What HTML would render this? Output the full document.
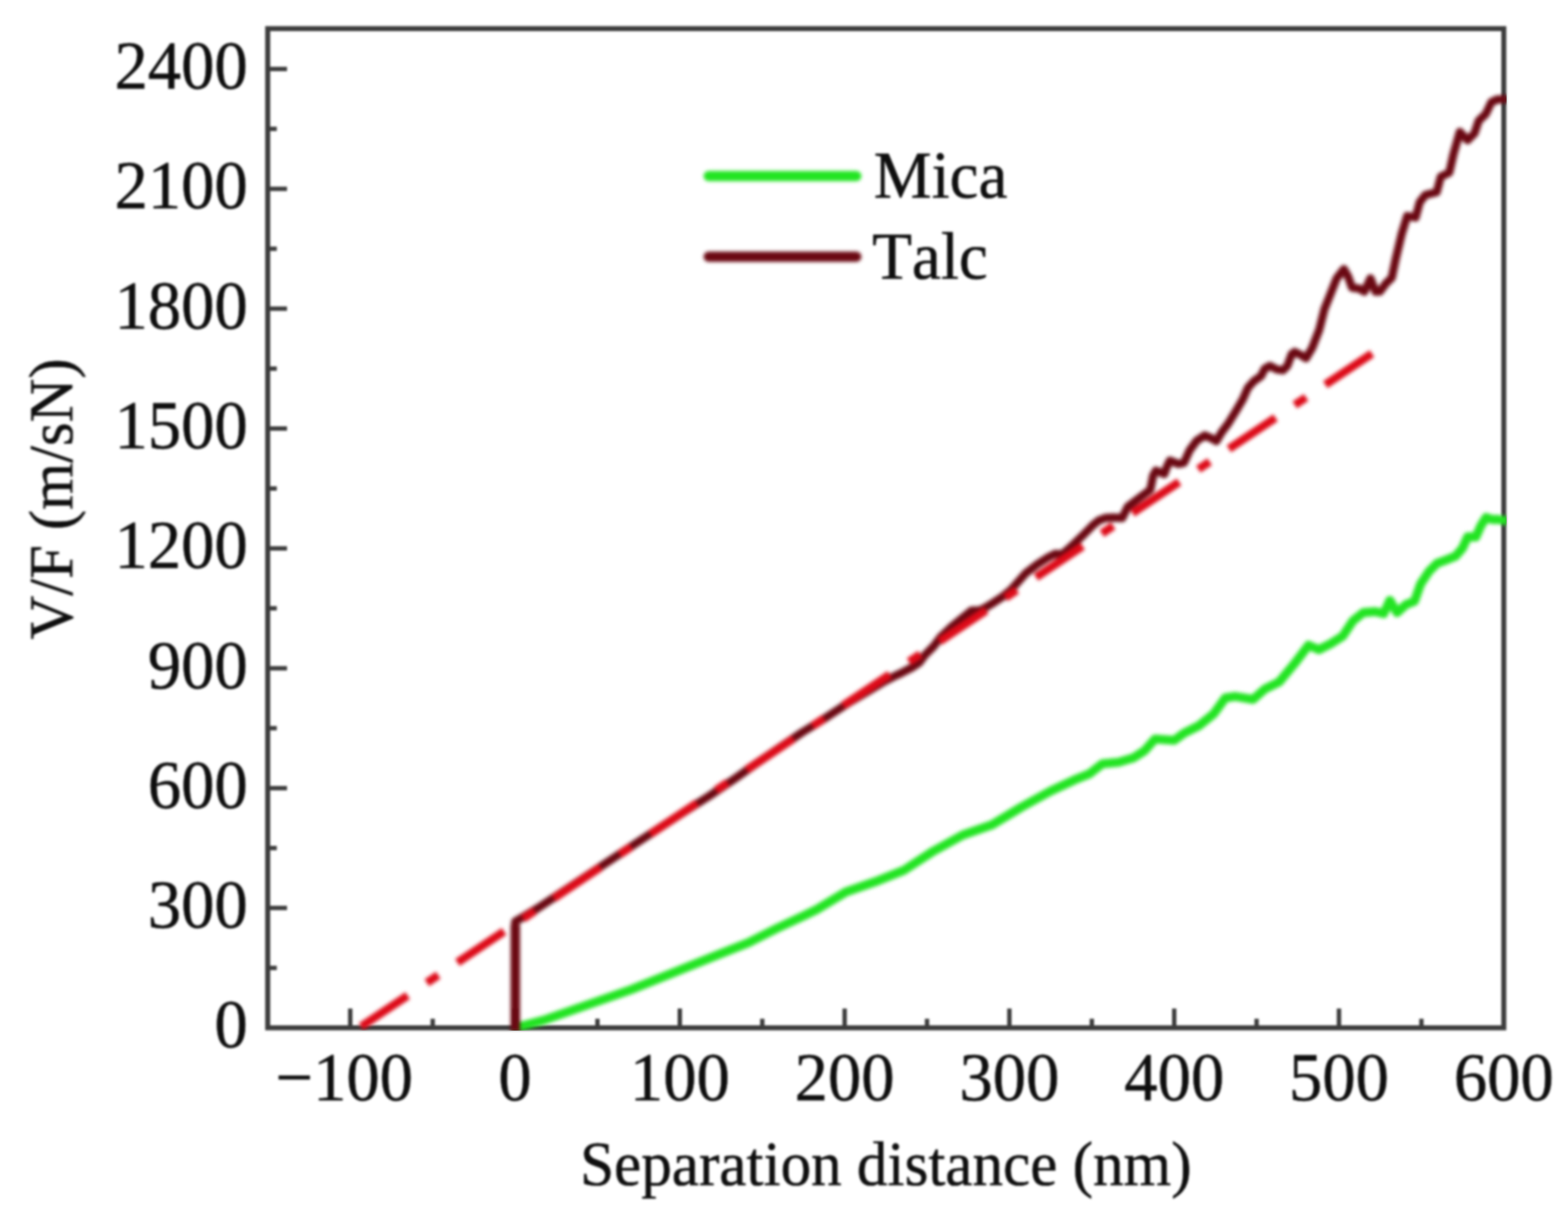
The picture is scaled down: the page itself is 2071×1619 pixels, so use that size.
<!DOCTYPE html>
<html lang="en"><head><meta charset="utf-8">
<title>V/F versus separation distance – Mica and Talc</title>
<style>
html,body{margin:0;padding:0;background:#ffffff;}
html{width:2071px;height:1619px;}
body{width:2071px;height:1619px;overflow:hidden;}
svg{display:block;font-family:"Liberation Serif", "DejaVu Serif", serif;font-kerning:none;font-variant-ligatures:none;text-rendering:geometricPrecision;}
.soft{filter:blur(1.6px);}
.softer{filter:blur(2.4px);}
text{fill:#0e0e0e;stroke:#0e0e0e;stroke-width:0.6px;stroke-linejoin:round;}
.tick{font-size:88px;}
.ttl{font-size:80px;}
.leg{font-size:86px;}
</style></head><body>
<svg xmlns="http://www.w3.org/2000/svg" width="2071" height="1619" viewBox="0 0 2071 1619">
<rect x="0" y="0" width="2071" height="1619" fill="#ffffff"/>
<defs><clipPath id="plot"><rect x="353.6" y="37.8" width="1636.3" height="1323.2"/></clipPath></defs>
<g class="soft" stroke="#3c3c3c" stroke-width="6.6" fill="none" stroke-linecap="butt">
<rect x="353.6" y="37.8" width="1632.6" height="1319.5"/>
<line x1="353.6" y1="1278.2" x2="365.6" y2="1278.2" stroke-width="5.8"/>
<line x1="353.6" y1="1199.0" x2="379.1" y2="1199.0" stroke-width="5.8"/>
<line x1="353.6" y1="1119.9" x2="365.6" y2="1119.9" stroke-width="5.8"/>
<line x1="353.6" y1="1040.8" x2="379.1" y2="1040.8" stroke-width="5.8"/>
<line x1="353.6" y1="961.6" x2="365.6" y2="961.6" stroke-width="5.8"/>
<line x1="353.6" y1="882.5" x2="379.1" y2="882.5" stroke-width="5.8"/>
<line x1="353.6" y1="803.3" x2="365.6" y2="803.3" stroke-width="5.8"/>
<line x1="353.6" y1="724.2" x2="379.1" y2="724.2" stroke-width="5.8"/>
<line x1="353.6" y1="645.1" x2="365.6" y2="645.1" stroke-width="5.8"/>
<line x1="353.6" y1="565.9" x2="379.1" y2="565.9" stroke-width="5.8"/>
<line x1="353.6" y1="486.8" x2="365.6" y2="486.8" stroke-width="5.8"/>
<line x1="353.6" y1="407.6" x2="379.1" y2="407.6" stroke-width="5.8"/>
<line x1="353.6" y1="328.5" x2="365.6" y2="328.5" stroke-width="5.8"/>
<line x1="353.6" y1="249.4" x2="379.1" y2="249.4" stroke-width="5.8"/>
<line x1="353.6" y1="170.2" x2="365.6" y2="170.2" stroke-width="5.8"/>
<line x1="353.6" y1="91.1" x2="379.1" y2="91.1" stroke-width="5.8"/>
<line x1="462.6" y1="1357.3" x2="462.6" y2="1331.8" stroke-width="5.8"/>
<line x1="571.5" y1="1357.3" x2="571.5" y2="1345.3" stroke-width="5.8"/>
<line x1="680.3" y1="1357.3" x2="680.3" y2="1331.8" stroke-width="5.8"/>
<line x1="789.1" y1="1357.3" x2="789.1" y2="1345.3" stroke-width="5.8"/>
<line x1="897.9" y1="1357.3" x2="897.9" y2="1331.8" stroke-width="5.8"/>
<line x1="1006.8" y1="1357.3" x2="1006.8" y2="1345.3" stroke-width="5.8"/>
<line x1="1115.6" y1="1357.3" x2="1115.6" y2="1331.8" stroke-width="5.8"/>
<line x1="1224.4" y1="1357.3" x2="1224.4" y2="1345.3" stroke-width="5.8"/>
<line x1="1333.2" y1="1357.3" x2="1333.2" y2="1331.8" stroke-width="5.8"/>
<line x1="1442.1" y1="1357.3" x2="1442.1" y2="1345.3" stroke-width="5.8"/>
<line x1="1550.9" y1="1357.3" x2="1550.9" y2="1331.8" stroke-width="5.8"/>
<line x1="1659.7" y1="1357.3" x2="1659.7" y2="1345.3" stroke-width="5.8"/>
<line x1="1768.5" y1="1357.3" x2="1768.5" y2="1331.8" stroke-width="5.8"/>
<line x1="1877.4" y1="1357.3" x2="1877.4" y2="1345.3" stroke-width="5.8"/>
</g>
<g clip-path="url(#plot)"><g class="softer" fill="none" stroke-linejoin="round">
<polyline points="676.0,1358.0 689.0,1355.0 718.0,1347.2 756.6,1333.7 795.2,1320.2 833.8,1306.7 872.5,1291.2 911.1,1275.8 949.7,1260.3 988.3,1244.9 1027.0,1225.5 1060.0,1210.1 1078.6,1201.1 1117.3,1177.9 1155.9,1164.4 1194.5,1148.9 1233.1,1123.8 1271.8,1102.6 1310.4,1089.1 1349.0,1065.9 1387.7,1044.6 1419.3,1029.8 1438.6,1022.1 1456.0,1008.6 1477.3,1006.7 1496.6,1000.9 1512.0,991.2 1525.5,975.8 1550.7,977.7 1564.2,968.0 1583.5,958.4 1602.8,942.9 1618.3,921.7 1631.8,919.7 1655.0,923.6 1670.4,910.1 1689.7,900.4 1709.0,877.3 1728.3,852.1 1741.9,857.9 1757.3,850.2 1773.5,840.1 1787.0,819.8 1800.6,809.0 1816.8,807.7 1827.6,810.4 1835.7,792.8 1845.2,809.0 1857.3,798.2 1868.2,794.1 1876.3,771.2 1887.1,754.9 1897.9,744.1 1908.7,740.0 1922.3,734.6 1931.7,723.8 1938.5,709.0 1949.3,709.0 1956.0,694.1 1962.8,683.3 1970.9,686.0 1979.0,686.0 1986.2,687.3 1991.0,687.5" stroke="#22e422" stroke-width="11.8" stroke-linecap="butt"/>
<polyline points="680.5,1362.0 680.5,1217.0 690.0,1211.5 710.0,1199.5 760.0,1166.5 820.0,1126.8 870.0,1094.0 900.0,1074.5 937.0,1051.0 971.0,1028.0 1000.0,1007.5 1030.0,987.0 1059.7,967.0 1085.0,951.5 1098.3,942.8 1122.4,927.0 1146.6,912.9 1165.9,901.1 1180.4,893.4 1190.0,889.0 1204.5,881.4 1214.2,874.9 1221.9,864.8 1233.5,853.1 1242.2,841.5 1257.1,827.5 1271.9,815.5 1283.0,806.5 1294.1,806.0 1301.5,802.3 1312.7,795.6 1323.8,788.2 1334.9,779.3 1345.0,768.0 1354.8,757.0 1369.7,745.5 1384.5,736.0 1393.4,731.5 1403.0,732.0 1414.1,722.3 1429.0,708.2 1443.8,693.3 1451.2,687.4 1460.0,684.0 1470.0,683.5 1482.2,684.0 1489.7,669.0 1504.5,657.8 1519.3,646.7 1523.0,628.2 1526.7,621.5 1537.8,626.0 1541.5,615.6 1545.2,608.2 1556.4,612.6 1563.8,611.1 1571.2,594.8 1580.6,582.0 1591.2,574.9 1599.9,578.8 1606.6,582.6 1613.4,571.1 1622.1,559.5 1631.7,544.0 1641.4,527.6 1648.2,512.1 1655.9,503.5 1665.5,496.7 1670.4,487.0 1677.1,483.2 1686.8,488.0 1694.5,489.0 1700.3,483.2 1706.1,467.7 1710.0,464.8 1716.7,468.0 1725.0,473.1 1733.1,459.5 1742.5,435.2 1749.3,408.2 1757.4,387.9 1765.5,367.6 1775.0,355.4 1780.4,364.9 1785.8,379.8 1795.3,381.1 1802.0,385.2 1810.1,367.6 1816.9,385.2 1822.3,385.2 1830.4,374.4 1838.2,366.9 1843.7,340.9 1851.2,309.4 1858.6,285.3 1869.7,287.2 1875.2,266.8 1882.7,257.5 1897.5,253.8 1903.0,233.4 1914.2,227.9 1919.7,203.8 1928.1,174.1 1938.3,185.2 1947.5,176.0 1953.1,159.3 1962.4,150.5 1969.8,135.0 1977.2,131.5 1986.2,131.0 1991.0,131.0" stroke="#6a0812" stroke-width="10.8" stroke-linecap="butt"/>
<line x1="680.6" y1="1362" x2="680.6" y2="1221" stroke="#6a0812" stroke-width="12.5"/>
<line x1="476.8" y1="1355.7" x2="1812.5" y2="466.7" stroke="#dd0a18" stroke-width="10.8" stroke-dasharray="74 30.5 18 30.5"/>
</g></g>
<g class="tick soft" text-anchor="end">
<text transform="translate(327.3 1383.3) scale(1 1.03)">0</text>
<text transform="translate(327.3 1225.0) scale(1 1.03)">300</text>
<text transform="translate(327.3 1066.8) scale(1 1.03)">600</text>
<text transform="translate(327.3 908.5) scale(1 1.03)">900</text>
<text transform="translate(327.3 750.2) scale(1 1.03)">1200</text>
<text transform="translate(327.3 591.9) scale(1 1.03)">1500</text>
<text transform="translate(327.3 433.6) scale(1 1.03)">1800</text>
<text transform="translate(327.3 275.4) scale(1 1.03)">2100</text>
<text transform="translate(327.3 117.1) scale(1 1.03)">2400</text>
</g>
<g class="tick soft" text-anchor="middle">
<text transform="translate(454.6 1453) scale(1 1.03)">−100</text>
<text transform="translate(680.3 1453) scale(1 1.03)">0</text>
<text transform="translate(897.9 1453) scale(1 1.03)">100</text>
<text transform="translate(1115.6 1453) scale(1 1.03)">200</text>
<text transform="translate(1333.2 1453) scale(1 1.03)">300</text>
<text transform="translate(1550.9 1453) scale(1 1.03)">400</text>
<text transform="translate(1768.5 1453) scale(1 1.03)">500</text>
<text transform="translate(1986.2 1453) scale(1 1.03)">600</text>
</g>
<g class="soft">
<text class="ttl" text-anchor="middle" transform="translate(1170 1565.3) scale(1 1.03)" style="font-size:80.8px">Separation distance (nm)</text>
<text class="ttl" text-anchor="middle" transform="translate(95.5 659) rotate(-90) scale(1 1.03)" style="font-size:80px">V/F (m/sN)</text>
</g>
<g class="softer">
<line x1="936" y1="232.5" x2="1131" y2="232.5" stroke="#22e422" stroke-width="13.5" stroke-linecap="round"/>
<line x1="936" y1="339" x2="1131" y2="339" stroke="#6a0812" stroke-width="13.5" stroke-linecap="round"/>
</g>
<g class="soft">
<text class="leg" transform="translate(1154 261) scale(1 1.03)">Mica</text>
<text class="leg" transform="translate(1152 367.5) scale(1 1.03)">Talc</text>
</g>
</svg>
</body></html>
